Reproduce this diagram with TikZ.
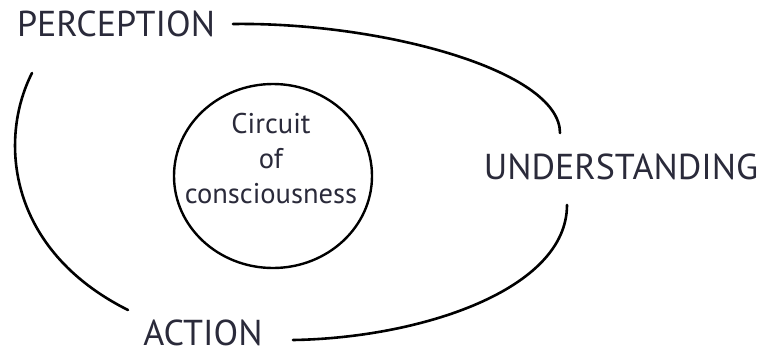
\documentclass[tikz,border=0pt]{standalone}
\usepackage{fontspec}
\setmainfont{PT Sans}
\definecolor{txt}{HTML}{2A2A3A}
\begin{document}
\begin{tikzpicture}[x=1pt,y=-1pt,
  lbl/.style={text=txt,inner sep=0pt,anchor=base,font=\fontsize{36}{36}\selectfont},
  small/.style={text=txt,inner sep=0pt,anchor=base,font=\fontsize{28.5}{34}\selectfont},
  arcline/.style={line width=2.6pt,line cap=round}]
\useasboundingbox[fill=white] (0,0) rectangle (763,354);
\node[lbl] (per) at (116,36) {PERCEPTION};
\node[lbl] (und) at (621,179) {UNDERSTANDING};
\node[lbl] (act) at (203,345) {ACTION};
\draw[line width=2.4pt] (273,176) ellipse [x radius=99, y radius=92];
\node[small] (cc1) at (271,133) {Circuit};
\node[small] (cc2) at (271,168) {of};
\node[small] (cc3) at (271,203) {consciousness};
\coordinate (p1) at (233,24);
\coordinate (p2) at (560,133);
\coordinate (p3) at (567,205);
\coordinate (p4) at (293,340);
\coordinate (p5) at (128,310);
\coordinate (p6) at (32,73);
\draw[arcline] (p1) .. controls (380,22) and (560,70) .. (p2);
\draw[arcline] (p3) .. controls (567,290) and (420,338) .. (p4);
\draw[arcline] (p6) .. controls (-2,140) and (8,250) .. (p5);
\end{tikzpicture}
\end{document}
